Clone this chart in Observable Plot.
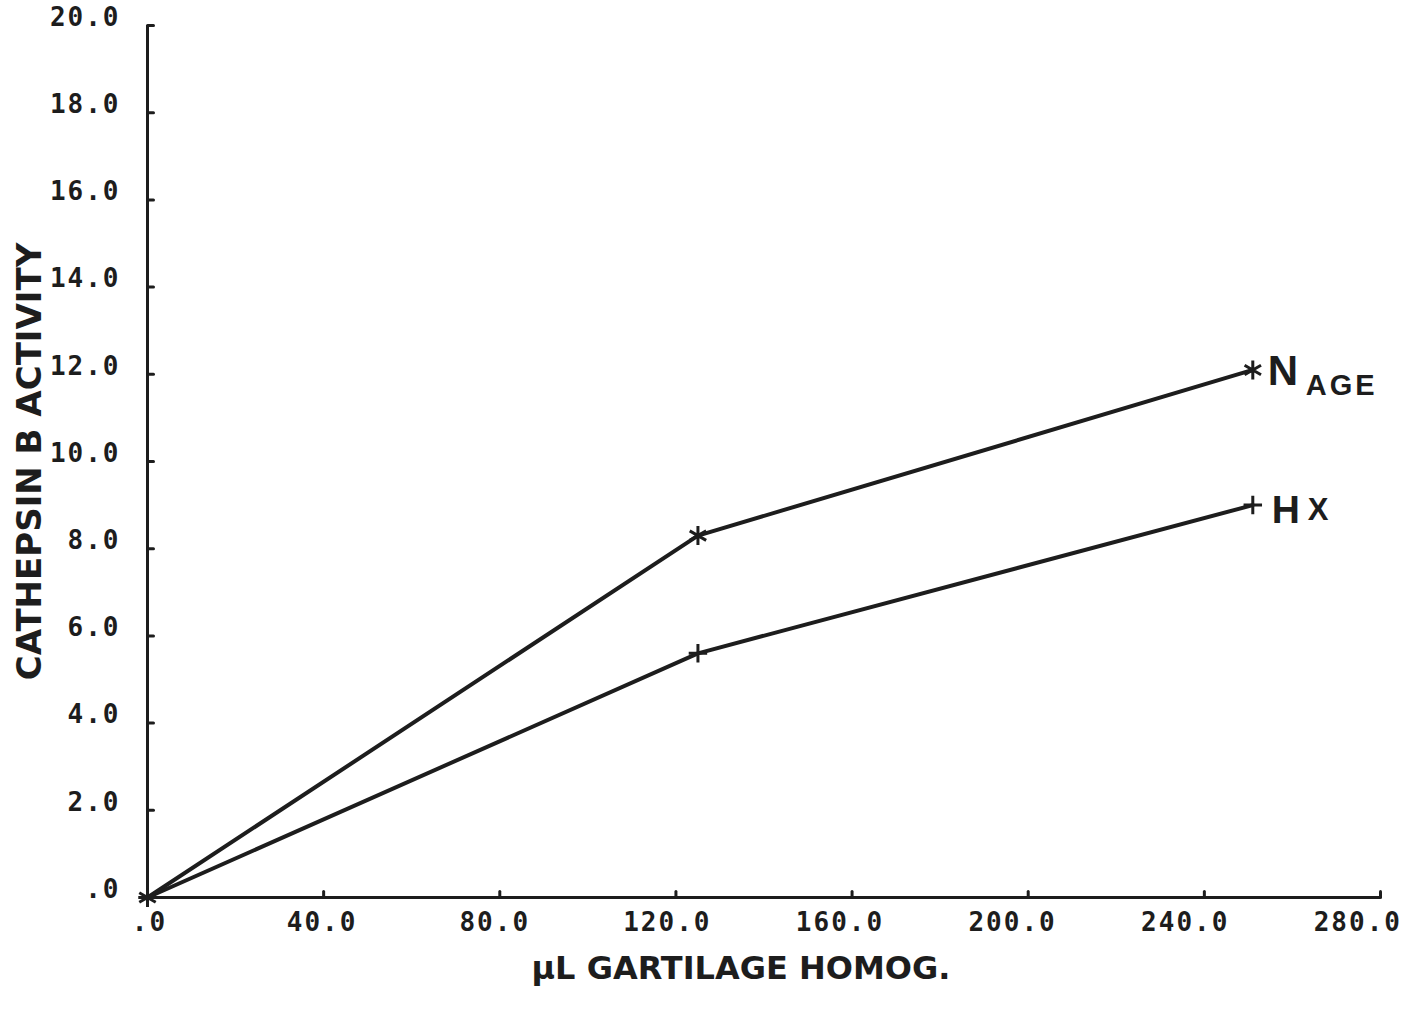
<!DOCTYPE html>
<html>
<head>
<meta charset="utf-8">
<script src="https://cdn.jsdelivr.net/npm/d3@7"></script>
<script src="https://cdn.jsdelivr.net/npm/@observablehq/plot@0.6"></script>
<style>
  html, body { margin: 0; padding: 0; background: #fff; }
  #chart svg { display: block; }
  /* monospaced tick labels are drawn slightly spaced out */
  #chart g[font-family*="DejaVu Sans Mono"] text { letter-spacing: 2px; }
  #chart text.spaced { letter-spacing: 3px; }
</style>
</head>
<body>
<div id="chart"></div>
<script>
// Cathepsin B activity against volume of cartilage homogenate
const volumes = [0, 125, 251];          // µL cartilage homogenate
const nageActivity = [0, 8.3, 12.1];    // N AGE series
const hxActivity = [0, 5.6, 9.0];       // HX series

const xTicks = [0, 40, 80, 120, 160, 200, 240, 280];
const xTickLabels = [".0", "40.0", "80.0", "120.0", "160.0", "200.0", "240.0", "280.0"];
const yTicks = [0, 2, 4, 6, 8, 10, 12, 14, 16, 18, 20];
const yTickLabels = [".0", "2.0", "4.0", "6.0", "8.0", "10.0", "12.0", "14.0", "16.0", "18.0", "20.0"];

const rows = [
  ...volumes.map((v, i) => ({series: "NAGE", volume: v, activity: nageActivity[i]})),
  ...volumes.map((v, i) => ({series: "HX", volume: v, activity: hxActivity[i]}))
];
const nageRows = rows.filter(d => d.series === "NAGE");
const hxRows = rows.filter(d => d.series === "HX");
const lastNage = nageRows.at(-1);
const lastHx = hxRows.at(-1);

const ink = "#1d1d1d";
const tickFont = "'DejaVu Sans Mono', 'Liberation Mono', monospace";
const titleFont = "'DejaVu Sans', Verdana, sans-serif";
const seriesFont = "'Liberation Sans', Arial, sans-serif";

// the plotter printed its x labels on a slightly shorter pitch than the ticks,
// so they drift a little to the left along the axis
const labelPitch = 0.98;

// short inward tick drawn from the anchor point
const tickShape = {draw(ctx, l) { ctx.moveTo(0, 0); ctx.lineTo(0, -l); }};

const chart = Plot.plot({
  width: 1410,
  height: 1011,
  marginLeft: 147,
  marginRight: 30,
  marginTop: 25,
  marginBottom: 114,
  x: {domain: [0, 280], axis: null},
  y: {domain: [0, 20], axis: null},
  style: {background: "#fff"},
  marks: [
    // axis lines
    Plot.ruleX([0], {y1: 0, y2: 20, stroke: ink, strokeWidth: 3}),
    Plot.ruleY([0], {x1: 0, x2: 280, stroke: ink, strokeWidth: 3}),
    // inward ticks
    Plot.vector(xTicks, {x: d => d, y: () => 0, length: 6, rotate: 0, anchor: "start",
      shape: tickShape, stroke: ink, strokeWidth: 3}),
    Plot.vector(yTicks, {x: () => 0, y: d => d, length: 6, rotate: 90, anchor: "start",
      shape: tickShape, stroke: ink, strokeWidth: 3}),
    // tick labels
    Plot.text(xTicks, {x: d => d * labelPitch, y: () => 0, text: (d, i) => xTickLabels[i],
      dy: 25, dx: 2, lineAnchor: "middle", textAnchor: "middle",
      fontFamily: tickFont, fontWeight: "bold", fontSize: 26, fill: ink}),
    Plot.text(yTicks, {x: () => 0, y: d => d, text: (d, i) => yTickLabels[i],
      dx: -27, dy: -8, lineAnchor: "middle", textAnchor: "end",
      fontFamily: tickFont, fontWeight: "bold", fontSize: 26, fill: ink}),
    // axis titles
    Plot.text(["CATHEPSIN B ACTIVITY"], {frameAnchor: "left", dx: -117, rotate: -90,
      textAnchor: "middle", text: d => d, fontFamily: titleFont, fontWeight: "bold",
      fontSize: 34, fill: ink}),
    Plot.text(["µL GARTILAGE HOMOG."], {frameAnchor: "bottom", dy: 81, dx: -23,
      textAnchor: "middle", text: d => d, fontFamily: titleFont, fontWeight: "bold",
      fontSize: 32, fill: ink}),
    // series
    Plot.line(rows, {x: "volume", y: "activity", z: "series", stroke: ink, strokeWidth: 4}),
    Plot.dot(nageRows, {x: "volume", y: "activity", symbol: "asterisk", r: 9,
      stroke: ink, strokeWidth: 3}),
    Plot.dot(hxRows, {x: "volume", y: "activity", symbol: "plus", r: 6,
      stroke: ink, strokeWidth: 3}),
    // series labels
    Plot.text([lastNage], {x: "volume", y: "activity", text: () => "N", dx: 15, dy: 15,
      lineAnchor: "bottom", textAnchor: "start", fontFamily: seriesFont, fontWeight: "bold",
      fontSize: 42, fill: ink}),
    Plot.text([lastNage], {x: "volume", y: "activity", text: () => "AGE", dx: 53, dy: 25,
      lineAnchor: "bottom", textAnchor: "start", fontFamily: seriesFont, fontWeight: "bold",
      fontSize: 29, fill: ink}),
    Plot.text([lastHx], {x: "volume", y: "activity", text: () => "H", dx: 19, dy: 18,
      lineAnchor: "bottom", textAnchor: "start", fontFamily: seriesFont, fontWeight: "bold",
      fontSize: 39, fill: ink}),
    Plot.text([lastHx], {x: "volume", y: "activity", text: () => "X", dx: 55, dy: 15,
      lineAnchor: "bottom", textAnchor: "start", fontFamily: seriesFont, fontWeight: "bold",
      fontSize: 31, fill: ink})
  ]
});

// the small-caps subscript of the N AGE label is letter-spaced
d3.select(chart).selectAll("text").filter(function () { return this.textContent === "AGE"; })
  .classed("spaced", true);

document.getElementById("chart").appendChild(chart);
</script>
</body>
</html>
